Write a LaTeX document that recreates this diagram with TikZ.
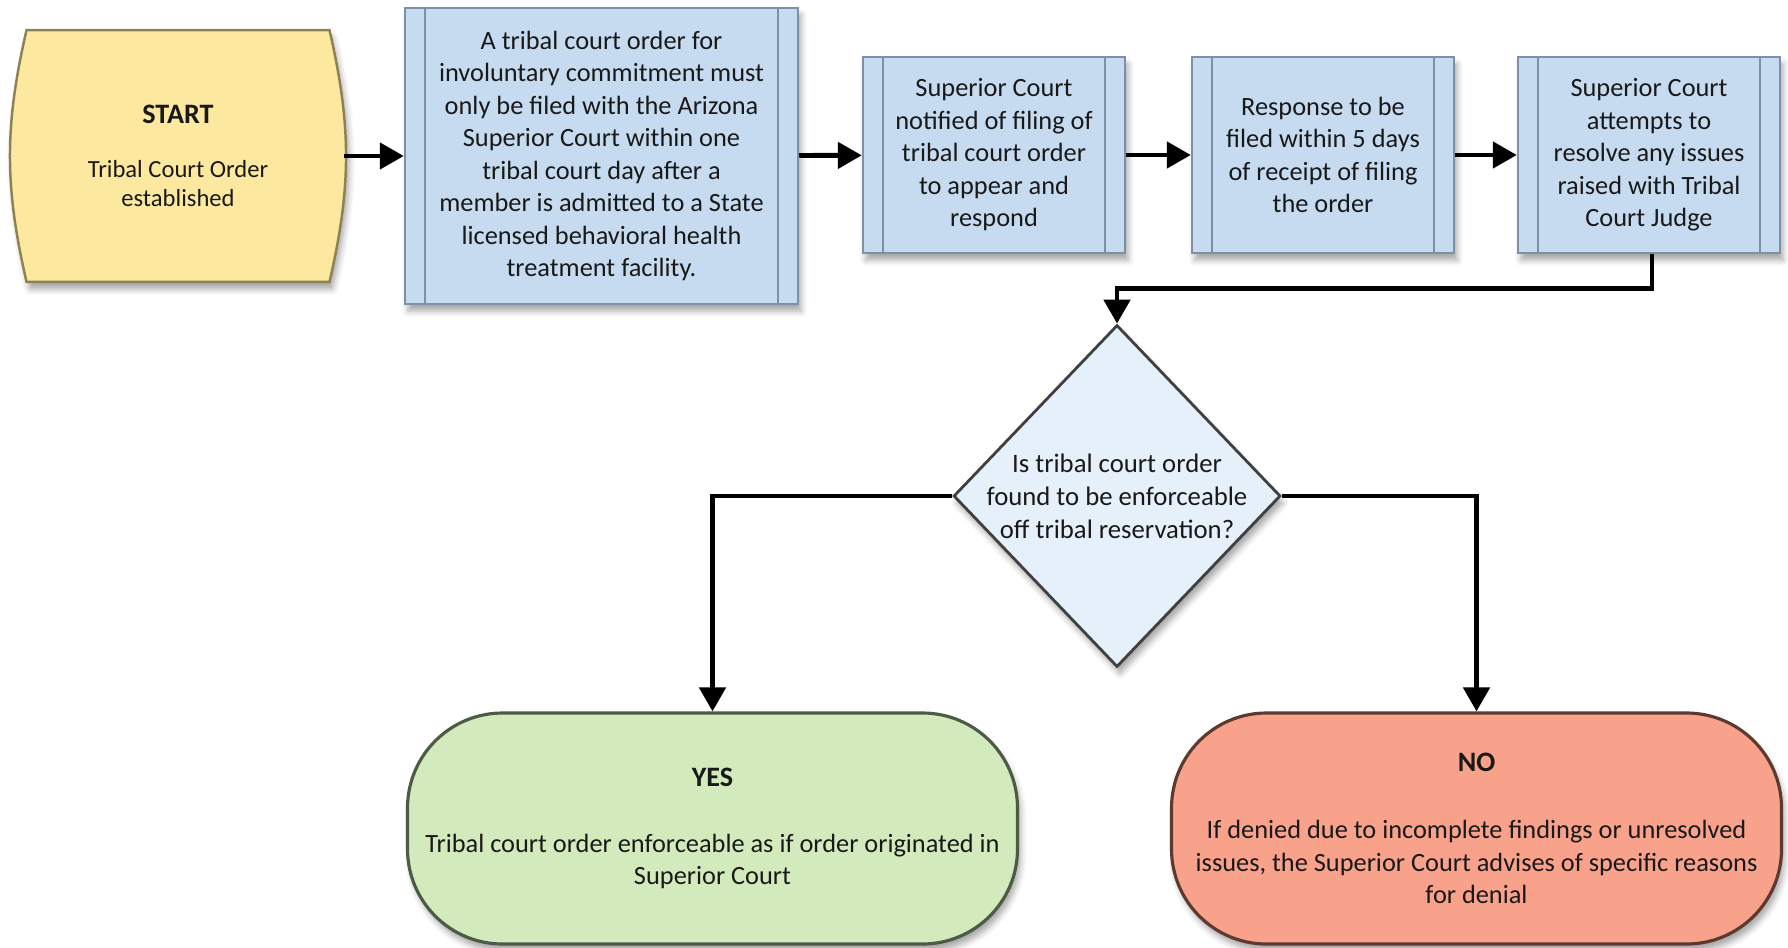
\documentclass[tikz,border=0pt]{standalone}
\usepackage{fontspec}
\setmainfont{Carlito}
\usetikzlibrary{shapes.geometric,arrows.meta,shadows.blur,backgrounds}

\definecolor{startfill}{HTML}{FCE89F}
\definecolor{startline}{HTML}{8F8252}
\definecolor{procfill}{HTML}{C6DBF0}
\definecolor{procline}{HTML}{7D90A6}
\definecolor{askfill}{HTML}{E6F0FA}
\definecolor{yesfill}{HTML}{D3EABD}
\definecolor{yesline}{HTML}{4D5A45}
\definecolor{nofill}{HTML}{F8A18B}
\definecolor{noline}{HTML}{5C3A30}

\tikzset{
  shade/.style={blur shadow={shadow xshift=0.03cm, shadow yshift=-0.07cm, shadow blur radius=0.06cm, shadow opacity=35}},
  proc/.style={rectangle, draw=procline, fill=procfill, line width=0.7pt, inner sep=0pt,
    minimum width=2.62cm, minimum height=1.96cm, shade,
    path picture={\draw[procline, line width=0.5pt]
      ([xshift=0.2cm]path picture bounding box.north west) -- ([xshift=0.2cm]path picture bounding box.south west)
      ([xshift=-0.2cm]path picture bounding box.north east) -- ([xshift=-0.2cm]path picture bounding box.south east);}},
  ends/.style={rectangle, rounded corners=0.95cm, line width=0.9pt, inner sep=0pt,
    minimum width=6.1cm, minimum height=2.31cm, shade}
}

\begin{document}
\begin{tikzpicture}[line width=1.4pt, font=\fontsize{7.5}{9.25}\selectfont]
   \useasboundingbox (0,0) rectangle (17.88,-9.47);
   \begin{scope}[every node/.style={align=center, text=black!90}]
    \node[rectangle, inner sep=0pt, minimum width=2.98cm, minimum height=2.47cm,
      font=\fontsize{7}{8.4}\selectfont] (start) at (1.78,-1.56)
      {{\fontsize{8}{9}\selectfont\bfseries START}\\[7pt]Tribal Court Order\\established};
    \node[proc, minimum width=3.93cm, minimum height=2.96cm] (file) at (6.015,-1.56)
      {A tribal court order for\\involuntary commitment must\\only be filed with the Arizona\\Superior Court within one\\tribal court day after a\\member is admitted to a State\\licensed behavioral health\\treatment facility.};
    \node[proc] (notify) at (9.94,-1.55)
      {Superior Court\\notified of filing of\\tribal court order\\to appear and\\respond};
    \node[proc] (reply) at (13.23,-1.55)
      {Response to be\\filed within 5 days\\of receipt of filing\\the order};
    \node[proc] (resolve) at (16.49,-1.55)
      {Superior Court\\attempts to\\resolve any issues\\raised with Tribal\\Court Judge};
    \node[diamond, draw=black!75, fill=askfill, line width=0.8pt, inner sep=0pt,
      minimum width=3.27cm, minimum height=3.42cm, shade] (ask) at (11.17,-4.96) {};
    \node[font=\fontsize{7.6}{9.4}\selectfont] (asktext) at (ask.center)
      {Is tribal court order\\found to be enforceable\\off tribal reservation?};
    \node[ends, draw=yesline, fill=yesfill] (yes) at (7.125,-8.285)
      {{\fontsize{8}{9}\selectfont\bfseries YES}\\[9.5pt]Tribal court order enforceable as if order originated in\\Superior Court};
    \node[ends, draw=noline, fill=nofill] (no) at (14.765,-8.285)
      {{\fontsize{8}{9}\selectfont\bfseries NO}\\[10pt]If denied due to incomplete findings or unresolved\\issues, the Superior Court advises of specific reasons\\for denial};
   \end{scope}
   % barrel outline of the start node
   \begin{scope}[on background layer]
    \path[draw=startline, fill=startfill, line width=0.7pt, shade]
      (start.north west) to[bend right=13] (start.south west) -- (start.south east)
      to[bend right=13] (start.north east) -- cycle;
   \end{scope}
   \begin{scope}[every edge/.style={draw=black, line width=1.4pt, -{Triangle[length=0.24cm,width=0.26cm]}}]
    \draw ([xshift=0.15cm]start.east) edge (file);
    \draw (file) edge (notify);
    \draw (notify) edge (reply);
    \draw (reply) edge (resolve);
   \end{scope}
   \draw[-{Triangle[length=0.24cm,width=0.26cm]}] ([xshift=0.03cm]resolve.south) -- ++(0,-0.34) -| (ask.north);
   \draw[-{Triangle[length=0.24cm,width=0.26cm]}] (ask.west) -| (yes.north);
   \draw[-{Triangle[length=0.24cm,width=0.26cm]}] (ask.east) -| (no.north);
\end{tikzpicture}
\end{document}
